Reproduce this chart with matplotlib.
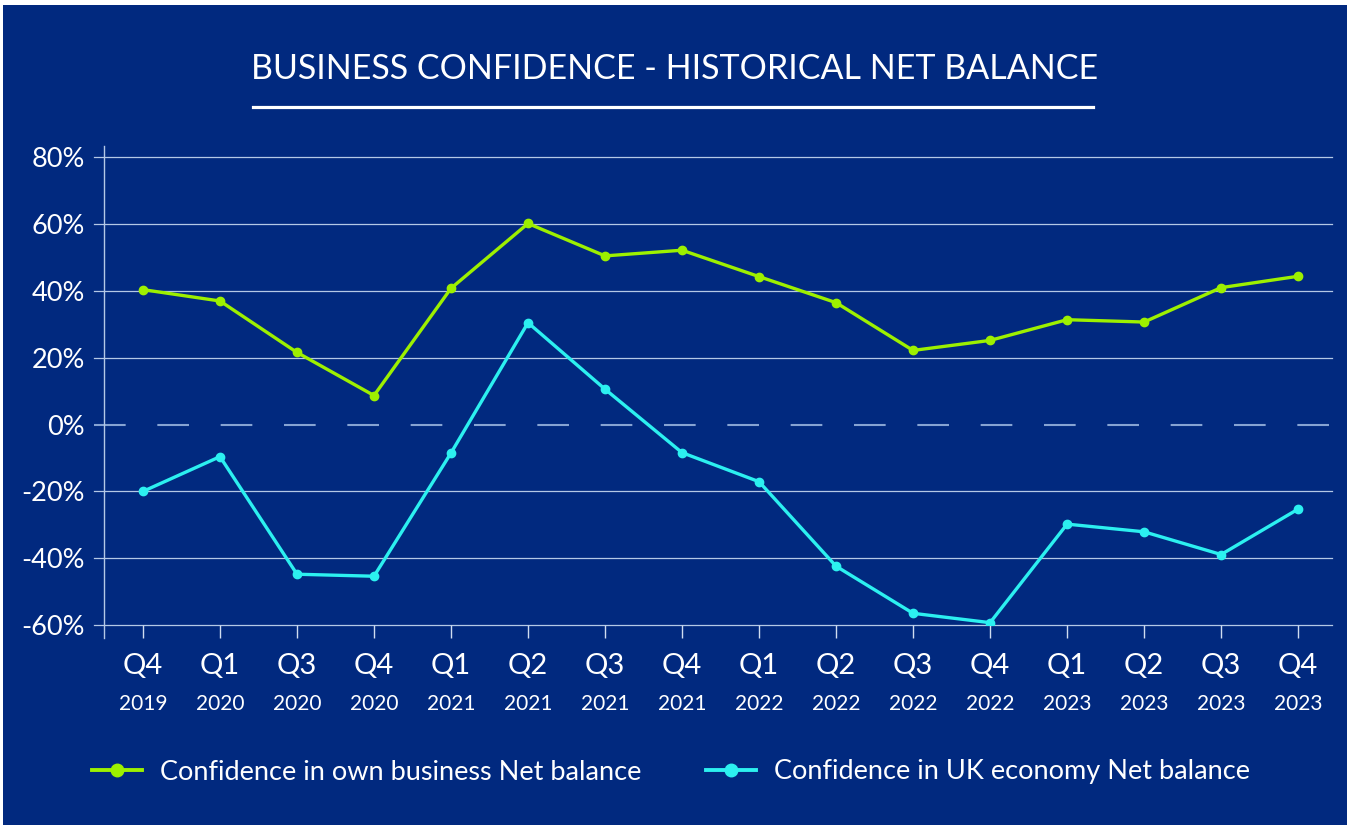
import matplotlib
matplotlib.use("Agg")
import matplotlib.pyplot as plt
import matplotlib.transforms as mtransforms
from matplotlib.patches import Rectangle
from matplotlib.lines import Line2D

plt.rcParams['font.family'] = ['Lato', 'DejaVu Sans']
plt.rcParams['lines.scale_dashes'] = False

quarters = ["Q4", "Q1", "Q3", "Q4", "Q1", "Q2", "Q3", "Q4",
            "Q1", "Q2", "Q3", "Q4", "Q1", "Q2", "Q3", "Q4"]
years = ["2019", "2020", "2020", "2020", "2021", "2021", "2021", "2021",
         "2022", "2022", "2022", "2022", "2023", "2023", "2023", "2023"]
own_business = [40.4, 37.0, 21.6, 8.7, 40.8, 60.2, 50.5, 52.2,
                44.3, 36.5, 22.2, 25.2, 31.4, 30.7, 41.0, 44.4]
uk_economy = [-20.0, -9.6, -44.8, -45.4, -8.5, 30.5, 10.6, -8.4,
              -17.1, -42.4, -56.5, -59.3, -29.8, -32.1, -38.9, -25.3]
ytick_vals = [80, 60, 40, 20, 0, -20, -40, -60]

BG = "#01297f"
GREEN = "#9df000"
CYAN = "#2cf0f0"
GRID = "#b4c8e6"

W, H = 1351, 827
fig = plt.figure(figsize=(W / 100, H / 100), dpi=100, facecolor="white")
bgrect = Rectangle((3 / W, 2 / H), (W - 7) / W, (H - 7) / H,
                   transform=fig.transFigure, facecolor=BG,
                   edgecolor="none", zorder=-10)
fig.patches.append(bgrect)

ax = fig.add_axes([104 / W, (H - 625) / H, (1332 - 104) / W, (625 - 146) / H])
ax.set_zorder(1)
ax.set_facecolor("none")
x = list(range(len(quarters)))
ax.set_xlim(-0.506, 15.44)
ax.set_ylim(-60, 83.4)

# grid lines (drawn manually so they extend left like ticks)
for v in ytick_vals:
    if v == 0:
        ax.plot([-10 / 1228, 1], [v, v], transform=ax.get_yaxis_transform(),
                color="#86a3d3", lw=1.5, linestyle=(0, (22.8, 22.8)),
                clip_on=False, zorder=1)
    else:
        ax.plot([-10 / 1228, 1], [v, v], transform=ax.get_yaxis_transform(),
                color=GRID, lw=0.9, clip_on=False, zorder=1)

for s in ["top", "right", "bottom", "left"]:
    ax.spines[s].set_visible(False)
ax.plot([0, 0], [-64, 83.4], transform=ax.get_yaxis_transform(),
        color=GRID, lw=1.0, clip_on=False, zorder=1)

ax.set_yticks(ytick_vals)
ax.set_yticklabels([f"{v}%" for v in ytick_vals])
ax.tick_params(axis="y", length=0, pad=13.7, labelsize=19.5, labelcolor="white")
ax.set_xticks(x)
ax.set_xticklabels([])
ax.tick_params(axis="x", length=9.4, width=1.0, color="#d0dcf0", direction="out")

ax.plot(x, own_business, color=GREEN, lw=2.4, marker="o", ms=6, zorder=3,
        label="Confidence in own business Net balance")
ax.plot(x, uk_economy, color=CYAN, lw=2.4, marker="o", ms=6, zorder=3,
        label="Confidence in UK economy Net balance")

tr = mtransforms.blended_transform_factory(ax.transData, fig.transFigure)
for i, (q, yr) in enumerate(zip(quarters, years)):
    ax.text(i, (H - 666) / H, q, transform=tr, ha="center", va="center",
            fontsize=21, color="white")
    ax.text(i, (H - 704) / H, yr, transform=tr, ha="center", va="center",
            fontsize=15, color="white")

# title and underline
fig.text(675 / W, (H - 69) / H, "BUSINESS CONFIDENCE - HISTORICAL NET BALANCE",
         ha="center", va="center", fontsize=24.5, color="white")
fig.add_artist(Line2D([253 / W, 1093 / W], [(H - 107) / H] * 2,
                      transform=fig.transFigure, color="white", lw=2.3))

handles = [Line2D([], [], color=GREEN, lw=2.8, marker="o", ms=9),
           Line2D([], [], color=CYAN, lw=2.8, marker="o", ms=9)]
labels = ["Confidence in own business Net balance",
          "Confidence in UK economy Net balance"]
fig.legend(handles, labels, loc="center", bbox_to_anchor=(671 / W, (H - 772) / H),
           ncol=2, frameon=False, fontsize=19.5, labelcolor="white",
           handlelength=1.85, handletextpad=0.65, columnspacing=2.4)

fig.savefig("out.png", dpi=100, facecolor="white")
